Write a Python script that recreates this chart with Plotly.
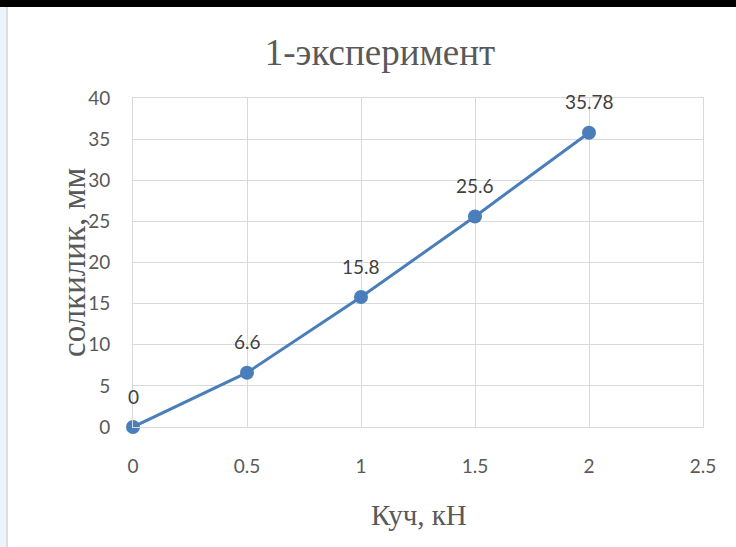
import plotly.graph_objects as go

# Load (kN) vs. deflection (mm)
load_kn = [0, 0.5, 1, 1.5, 2]
deflection_mm = [0, 6.6, 15.8, 25.6, 35.78]
point_labels = ["0", "6.6", "15.8", "25.6", "35.78"]

x_ticks = [0, 0.5, 1, 1.5, 2, 2.5]
x_tick_text = ["0", "0.5", "1", "1.5", "2", "2.5"]
y_ticks = [0, 5, 10, 15, 20, 25, 30, 35, 40]

W, H = 736, 547
M_L, M_R, M_T, M_B = 133, 33, 98, 120
PW, PH = W - M_L - M_R, H - M_T - M_B

def px_x(p):
    return (p - M_L) / PW

def px_y(p):
    return (H - M_B - p) / PH

LINE = "#4a7ebb"
GRID = "#d9d9d9"
SERIF = "Liberation Serif, Times New Roman, serif"
SANS = "Lato, Open Sans, sans-serif"

fig = go.Figure()
fig.add_trace(go.Scatter(
    x=load_kn, y=deflection_mm, mode="lines+markers",
    line=dict(color=LINE, width=3),
    marker=dict(color=LINE, size=14),
    cliponaxis=False, showlegend=False, hoverinfo="skip",
))

annotations = []
for xv, yv, t in zip(load_kn, deflection_mm, point_labels):
    annotations.append(dict(
        x=xv, y=yv, xref="x", yref="y", text=t, showarrow=False,
        xanchor="center", yanchor="middle",
        yshift=31, font=dict(family=SANS, size=19, color="#404040"),
    ))

annotations.append(dict(
    x=px_x(74), y=px_y(263), xref="paper", yref="paper",
    xanchor="center", yanchor="middle",
    text="солкилик, мм", textangle=-90, showarrow=False,
    font=dict(family=SERIF, size=33, color="#595959"),
))
annotations.append(dict(
    x=px_x(419), y=px_y(515), xref="paper", yref="paper",
    xanchor="center", yanchor="middle",
    text="Куч, кН", showarrow=False,
    font=dict(family=SERIF, size=29, color="#595959"),
))

shapes = [
    # top dark band
    dict(type="rect", xref="paper", yref="paper", layer="above",
         x0=px_x(0), x1=px_x(W), y0=px_y(7), y1=px_y(0),
         fillcolor="#000000", line=dict(width=0)),
    # left pale strip with divider
    dict(type="rect", xref="paper", yref="paper", layer="below",
         x0=px_x(0), x1=px_x(6), y0=px_y(H), y1=px_y(7),
         fillcolor="#eef4fb", line=dict(width=0)),
    dict(type="rect", xref="paper", yref="paper", layer="below",
         x0=px_x(6), x1=px_x(8), y0=px_y(H), y1=px_y(7),
         fillcolor="#dedede", line=dict(width=0)),
]

fig.update_layout(
    width=W, height=H,
    margin=dict(l=M_L, r=M_R, t=M_T, b=M_B, pad=0),
    paper_bgcolor="white", plot_bgcolor="white",
    title=dict(text="1-эксперимент", x=px_x(380),
               xref="paper", xanchor="center",
               y=1 - 52 / H, yref="container", yanchor="middle",
               font=dict(family=SERIF, size=37, color="#595959")),
    annotations=annotations,
    shapes=shapes,
)

fig.update_xaxes(
    range=[0, 2.5], tickvals=x_ticks, ticktext=x_tick_text,
    showgrid=True, gridcolor=GRID, gridwidth=1,
    showline=True, linecolor=GRID, linewidth=1, mirror=True,
    zeroline=False, ticks="", ticklabelstandoff=22,
    tickfont=dict(family=SANS, size=19, color="#595959"),
)
fig.update_yaxes(
    range=[0, 40], tickvals=y_ticks,
    showgrid=True, gridcolor=GRID, gridwidth=1,
    showline=True, linecolor=GRID, linewidth=1, mirror=True,
    zeroline=False, ticks="", ticklabelstandoff=18,
    tickfont=dict(family=SANS, size=19, color="#595959"),
)

fig.write_html("out.html")
